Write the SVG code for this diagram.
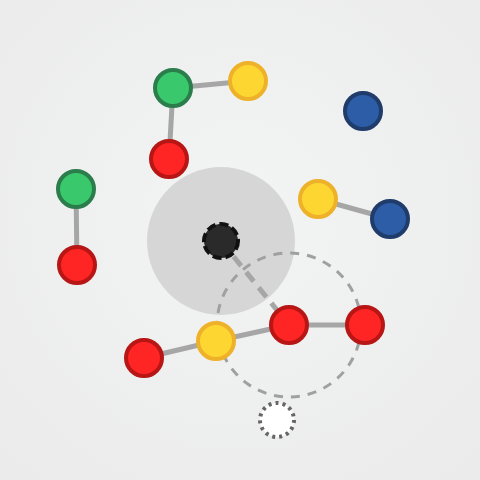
<svg xmlns="http://www.w3.org/2000/svg" width="480" height="480" viewBox="0 0 480 480">
<defs>
<radialGradient id="bg" cx="50%" cy="45%" r="70%">
<stop offset="0" stop-color="#f3f4f4"/>
<stop offset="1" stop-color="#ebebeb"/>
</radialGradient>
<style>
.edge{stroke:#a6a6a6;stroke-width:5;fill:none}
.n{stroke-width:4}
.green{fill:#3ac86c;stroke:#2b7d4b}
.yellow{fill:#fed631;stroke:#eeb12a}
.red{fill:#ff2525;stroke:#b81515}
.blue{fill:#2d5da6;stroke:#1f3c6b}
</style>
</defs>
<rect width="480" height="480" fill="url(#bg)"/>
<circle cx="221" cy="241" r="74" fill="#d6d6d6"/>
<g id="connectors">
<line class="edge" x1="173" y1="88" x2="248" y2="81"/>
<line class="edge" x1="173" y1="88" x2="169" y2="159"/>
<line class="edge" x1="76" y1="189" x2="77" y2="265"/>
<line class="edge" x1="318" y1="199" x2="390" y2="219"/>
<line class="edge" x1="144" y1="358" x2="216" y2="341"/>
<line class="edge" x1="216" y1="341" x2="289" y2="325"/>
<line class="edge" x1="289" y1="325" x2="365" y2="325"/>
<line class="edge" x1="221" y1="241" x2="289" y2="325" stroke-dasharray="12 8"/>
<circle cx="289" cy="325" r="72" fill="none" stroke="#a0a0a0" stroke-width="3" stroke-dasharray="9 8"/>
</g>
<g id="green1"><circle class="n green" cx="173" cy="88" r="18"/></g>
<g id="yellow1"><circle class="n yellow" cx="248" cy="81" r="18"/></g>
<g id="red1"><circle class="n red" cx="169" cy="159" r="18"/></g>
<g id="blue1"><circle class="n blue" cx="363" cy="111" r="18"/></g>
<g id="green2"><circle class="n green" cx="76" cy="189" r="18"/></g>
<g id="red2"><circle class="n red" cx="77" cy="265" r="18"/></g>
<g id="yellow2"><circle class="n yellow" cx="318" cy="199" r="18"/></g>
<g id="blue2"><circle class="n blue" cx="390" cy="219" r="18"/></g>
<g id="black"><circle cx="221" cy="241" r="17" fill="#2a2a2a" stroke="#111" stroke-width="4" stroke-dasharray="9 4"/></g>
<g id="red3"><circle class="n red" cx="289" cy="325" r="18"/></g>
<g id="red4"><circle class="n red" cx="365" cy="325" r="18"/></g>
<g id="yellow3"><circle class="n yellow" cx="216" cy="341" r="18"/></g>
<g id="red5"><circle class="n red" cx="144" cy="358" r="18"/></g>
<g id="ghost"><circle cx="277" cy="420" r="17" fill="#ffffff" stroke="#666" stroke-width="4" stroke-dasharray="3 4.1"/></g>
</svg>
